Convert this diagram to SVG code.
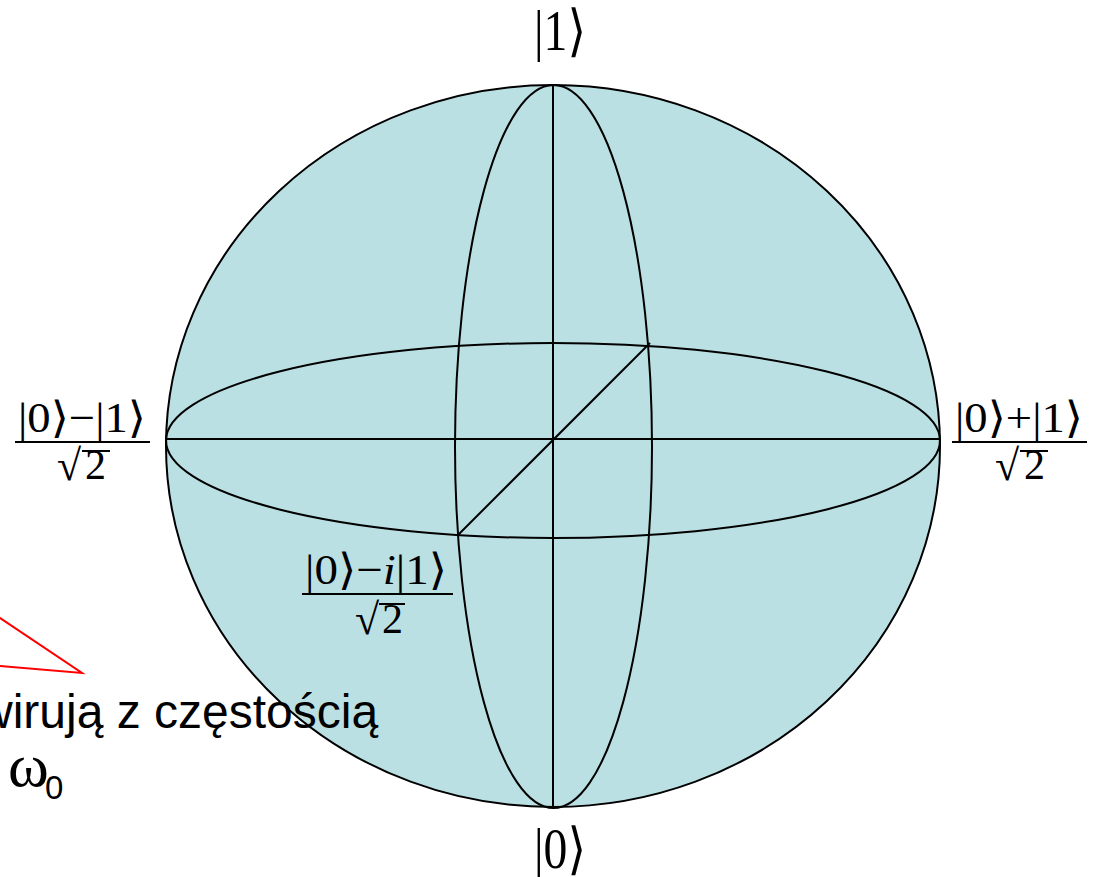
<svg xmlns="http://www.w3.org/2000/svg" width="1097" height="877" viewBox="0 0 1097 877">
<style>
.ln{fill:none;stroke:#000;stroke-width:2}
.m{font-family:"Liberation Serif","DejaVu Serif",serif;fill:#000}
.s{font-family:"Liberation Sans",Arial,sans-serif;fill:#000}
.red{fill:none;stroke:#ff0000;stroke-width:2}
</style>
<rect width="1097" height="877" fill="#fff"/>
<g id="sphere">
<ellipse cx="553" cy="446" rx="387" ry="361" fill="#bbe0e3" stroke="#000" stroke-width="2"/>
<ellipse class="ln" cx="553" cy="440.5" rx="387" ry="97.5"/>
<ellipse class="ln" cx="553.5" cy="446.5" rx="98.5" ry="361.5"/>
</g>
<g id="axes">
<line class="ln" x1="166" y1="439" x2="940" y2="439"/>
<line class="ln" x1="553" y1="85" x2="553" y2="808"/>
<line class="ln" x1="457" y1="536" x2="650" y2="343"/>
</g>
<g id="label-1">
<text class="m" x="534" y="50" font-size="56" textLength="52" lengthAdjust="spacingAndGlyphs">|1⟩</text>
</g>
<g id="label-0">
<text class="m" x="534" y="868" font-size="56" textLength="52" lengthAdjust="spacingAndGlyphs">|0⟩</text>
</g>
<g id="label-minus">
<text class="m" x="18" y="432" font-size="43" textLength="128" lengthAdjust="spacingAndGlyphs">|0⟩−|1⟩</text>
<line class="ln" x1="15" y1="442" x2="150" y2="442"/>
<text class="m" x="57" y="480" font-size="44">√</text>
<line class="ln" x1="82" y1="451" x2="110" y2="451"/>
<text class="m" x="85" y="479" font-size="42">2</text>
</g>
<g id="label-plus">
<text class="m" x="955" y="432" font-size="43" textLength="128" lengthAdjust="spacingAndGlyphs">|0⟩+|1⟩</text>
<line class="ln" x1="952" y1="442" x2="1087" y2="442"/>
<text class="m" x="995" y="480" font-size="44">√</text>
<line class="ln" x1="1020" y1="451" x2="1048" y2="451"/>
<text class="m" x="1024" y="479" font-size="42">2</text>
</g>
<g id="label-minus-i">
<text class="m" x="305" y="584" font-size="43" textLength="142" lengthAdjust="spacingAndGlyphs">|0⟩−<tspan font-style="italic">i</tspan>|1⟩</text>
<line class="ln" x1="302" y1="594" x2="453" y2="594"/>
<text class="m" x="355" y="634" font-size="44">√</text>
<line class="ln" x1="379" y1="604" x2="405" y2="604"/>
<text class="m" x="382" y="633" font-size="42">2</text>
</g>
<g id="callout">
<polyline class="red" points="-12,610 82,673 -12,665"/>
<text class="s" x="-22" y="728" font-size="48">wirują z częstością</text>
<text class="m" x="8" y="786" font-size="62">ω</text>
<text class="s" x="45" y="799" font-size="33">0</text>
</g>
</svg>
